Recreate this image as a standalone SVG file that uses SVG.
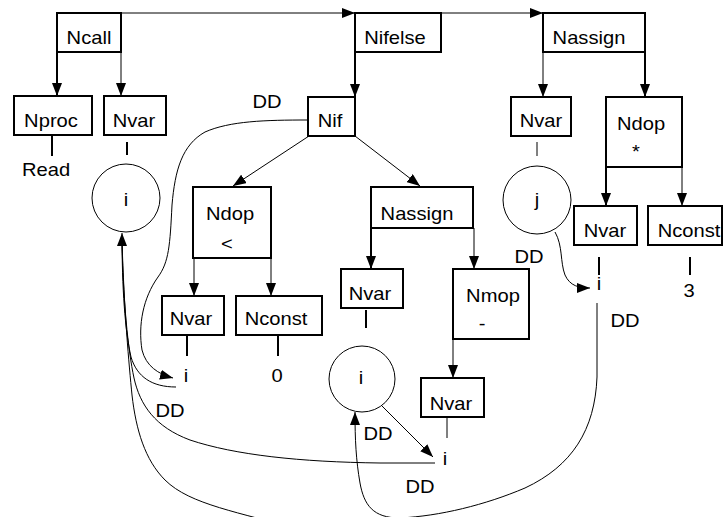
<svg xmlns="http://www.w3.org/2000/svg" width="723" height="517" viewBox="0 0 723 517">
<style>
  .box { fill: #fff; stroke: #000; stroke-width: 2; }
  .circ { fill: #fff; stroke: #000; stroke-width: 1; }
  .t { font-family: "Liberation Sans", Arial, sans-serif; font-size: 18px; text-anchor: middle; fill: #000; }
  .e { fill: none; stroke: #000; stroke-width: 1; }
  .ek { fill: none; stroke: #000; stroke-width: 2; }
</style>
<defs>
  <marker id="ah" viewBox="0 0 12 8" refX="12" refY="4" markerWidth="12" markerHeight="8" orient="auto" markerUnits="userSpaceOnUse">
    <path d="M0,0 L12,4 L0,8 z" fill="#000"/>
  </marker>
  <marker id="ahk" viewBox="0 0 13 10" refX="13" refY="5" markerWidth="13" markerHeight="10" orient="auto" markerUnits="userSpaceOnUse">
    <path d="M0,0 L13,5 L0,10 z" fill="#000"/>
  </marker>
</defs>
<rect width="723" height="517" fill="#fff"/>

<g id="connectors">
  <!-- sibling links -->
  <path class="e" d="M121,13 L355,13" marker-end="url(#ahk)"/>
  <path class="e" d="M441,13 L543,13" marker-end="url(#ahk)"/>
  <!-- tree arrows -->
  <path class="ek" d="M57,52 L57,96" marker-end="url(#ahk)"/>
  <path class="e" d="M121,52 L121,96" marker-end="url(#ahk)"/>
  <path class="ek" d="M355,52 L355,97" marker-end="url(#ahk)"/>
  <path class="e" d="M309,136 L233,186" marker-end="url(#ahk)"/>
  <path class="e" d="M355,136 L420,186" marker-end="url(#ahk)"/>
  <path class="e" d="M543,52 L543,97" marker-end="url(#ahk)"/>
  <path class="ek" d="M645,52 L645,97" marker-end="url(#ahk)"/>
  <path class="ek" d="M606,167 L606,206" marker-end="url(#ahk)"/>
  <path class="e" d="M682,167 L682,206" marker-end="url(#ahk)"/>
  <path class="e" d="M194,258 L194,296" marker-end="url(#ahk)"/>
  <path class="e" d="M271,258 L271,296" marker-end="url(#ahk)"/>
  <path class="ek" d="M371,228 L371,269" marker-end="url(#ahk)"/>
  <path class="e" d="M474,228 L474,269" marker-end="url(#ahk)"/>
  <path class="e" d="M453,339 L453,378" marker-end="url(#ahk)"/>
  <!-- leaf lines -->
  <path class="ek" d="M52,135 L52,156"/>
  <path class="ek" d="M127,142 L127,155"/>
  <path class="e" d="M537,142 L537,156"/>
  <path class="ek" d="M187,336 L187,356"/>
  <path class="ek" d="M278,336 L278,356"/>
  <path class="ek" d="M366,310 L366,328"/>
  <path class="e" d="M447,418 L447,438"/>
  <path class="ek" d="M599,257 L599,275"/>
  <path class="ek" d="M690,257 L690,275"/>
  <!-- DD edges -->
  <path class="e" d="M308,120 C265,120 230,121 205,132 C182,145 175,170 172,205 C170,245 169,262 158,277 C143,298 138,325 142,350 C146,366 158,374 173,378" marker-end="url(#ahk)"/>
  <path class="e" d="M555,232 C563,246 560,262 565,275 C570,286 579,288 590,288" marker-end="url(#ahk)"/>
  <path class="e" d="M380,404 L433,457" marker-end="url(#ahk)"/>
  <path class="e" d="M176,387 C152,387 137,377 131,357 C125,330 122,290 122,233" marker-end="url(#ahk)"/>
  <path class="e" d="M435,463 L380,463 C300,462 235,455 190,440 C155,427 140,405 134,378 C128,350 123,300 122,240"/>
  <path class="e" d="M300,530 C240,512 190,505 165,480 C145,460 136,430 132,395 C129,365 124,310 122,240"/>
  <path class="e" d="M597,303 L597,377 C595,430 572,466 525,488 C485,505 440,516 400,518 C373,518 364,505 360,483 C356,460 355,440 355,412" marker-end="url(#ahk)"/>
</g>

<g id="Ncall"><rect class="box" x="57" y="13" width="64" height="39"/><text class="t" transform="translate(89,44) scale(1.12,1)">Ncall</text></g>
<g id="Nifelse"><rect class="box" x="355" y="13" width="86" height="39"/><text class="t" transform="translate(395,44) scale(1.12,1)">Nifelse</text></g>
<g id="Nassign1"><rect class="box" x="543" y="13" width="102" height="39"/><text class="t" transform="translate(589,44) scale(1.12,1)">Nassign</text></g>

<g id="Nproc"><rect class="box" x="14" y="96" width="78" height="39"/><text class="t" transform="translate(51,127) scale(1.12,1)">Nproc</text></g>
<g id="Read"><text class="t" transform="translate(46,176) scale(1.12,1)">Read</text></g>
<g id="Nvar1"><rect class="box" x="104" y="96" width="62" height="39"/><text class="t" transform="translate(134,127) scale(1.12,1)">Nvar</text></g>
<g id="circle_i1"><circle class="circ" cx="126" cy="198" r="34"/><text class="t" transform="translate(126,206) scale(1.12,1)">i</text></g>

<g id="Nif"><rect class="box" x="308" y="97" width="47" height="39"/><text class="t" transform="translate(330,127) scale(1.12,1)">Nif</text></g>
<g id="DD_top"><text class="t" transform="translate(267,108) scale(1.12,1)">DD</text></g>

<g id="Ndop1"><rect class="box" x="193" y="187" width="78" height="71"/><text class="t" transform="translate(230,220) scale(1.12,1)">Ndop</text><text class="t" transform="translate(227,250) scale(1.12,1)">&lt;</text></g>
<g id="Nvar2"><rect class="box" x="162" y="296" width="62" height="39"/><text class="t" transform="translate(191,325) scale(1.12,1)">Nvar</text></g>
<g id="Nconst1"><rect class="box" x="236" y="296" width="86" height="39"/><text class="t" transform="translate(276,325) scale(1.12,1)">Nconst</text></g>
<g id="leaf_i2"><text class="t" transform="translate(186,382) scale(1.12,1)">i</text></g>
<g id="leaf_0"><text class="t" transform="translate(277,382) scale(1.12,1)">0</text></g>
<g id="DD_left"><text class="t" transform="translate(170,417) scale(1.12,1)">DD</text></g>

<g id="Nassign2"><rect class="box" x="371" y="187" width="102" height="41"/><text class="t" transform="translate(417,220) scale(1.12,1)">Nassign</text></g>
<g id="Nvar3"><rect class="box" x="341" y="269" width="62" height="39"/><text class="t" transform="translate(370,300) scale(1.12,1)">Nvar</text></g>
<g id="circle_i3"><circle class="circ" cx="362" cy="379" r="33"/><text class="t" transform="translate(361,384) scale(1.12,1)">i</text></g>
<g id="Nmop"><rect class="box" x="453" y="269" width="76" height="70"/><text class="t" transform="translate(493,302) scale(1.12,1)">Nmop</text><text class="t" transform="translate(482,330) scale(1.12,1)">-</text></g>
<g id="Nvar4"><rect class="box" x="421" y="378" width="63" height="39"/><text class="t" transform="translate(451,410) scale(1.12,1)">Nvar</text></g>
<g id="leaf_i4"><text class="t" transform="translate(445,465) scale(1.12,1)">i</text></g>
<g id="DD_mid"><text class="t" transform="translate(378,440) scale(1.12,1)">DD</text></g>
<g id="DD_bottom"><text class="t" transform="translate(420,493) scale(1.12,1)">DD</text></g>

<g id="Nvar5"><rect class="box" x="511" y="97" width="60" height="39"/><text class="t" transform="translate(541,127) scale(1.12,1)">Nvar</text></g>
<g id="circle_j"><circle class="circ" cx="537" cy="200" r="34"/><text class="t" transform="translate(537,206) scale(1.12,1)">j</text></g>
<g id="Ndop2"><rect class="box" x="606" y="97" width="76" height="70"/><text class="t" transform="translate(641,130) scale(1.12,1)">Ndop</text><text class="t" transform="translate(636,158) scale(1.12,1)">*</text></g>
<g id="Nvar6"><rect class="box" x="574" y="206" width="63" height="39"/><text class="t" transform="translate(605,237) scale(1.12,1)">Nvar</text></g>
<g id="Nconst2"><rect class="box" x="648" y="206" width="74" height="39"/><text class="t" transform="translate(689,237) scale(1.12,1)">Nconst</text></g>
<g id="leaf_i6"><text class="t" transform="translate(599,290) scale(1.12,1)">i</text></g>
<g id="leaf_3"><text class="t" transform="translate(689,297) scale(1.12,1)">3</text></g>
<g id="DD_j"><text class="t" transform="translate(529,263) scale(1.12,1)">DD</text></g>
<g id="DD_right"><text class="t" transform="translate(625,327) scale(1.12,1)">DD</text></g>
</svg>
